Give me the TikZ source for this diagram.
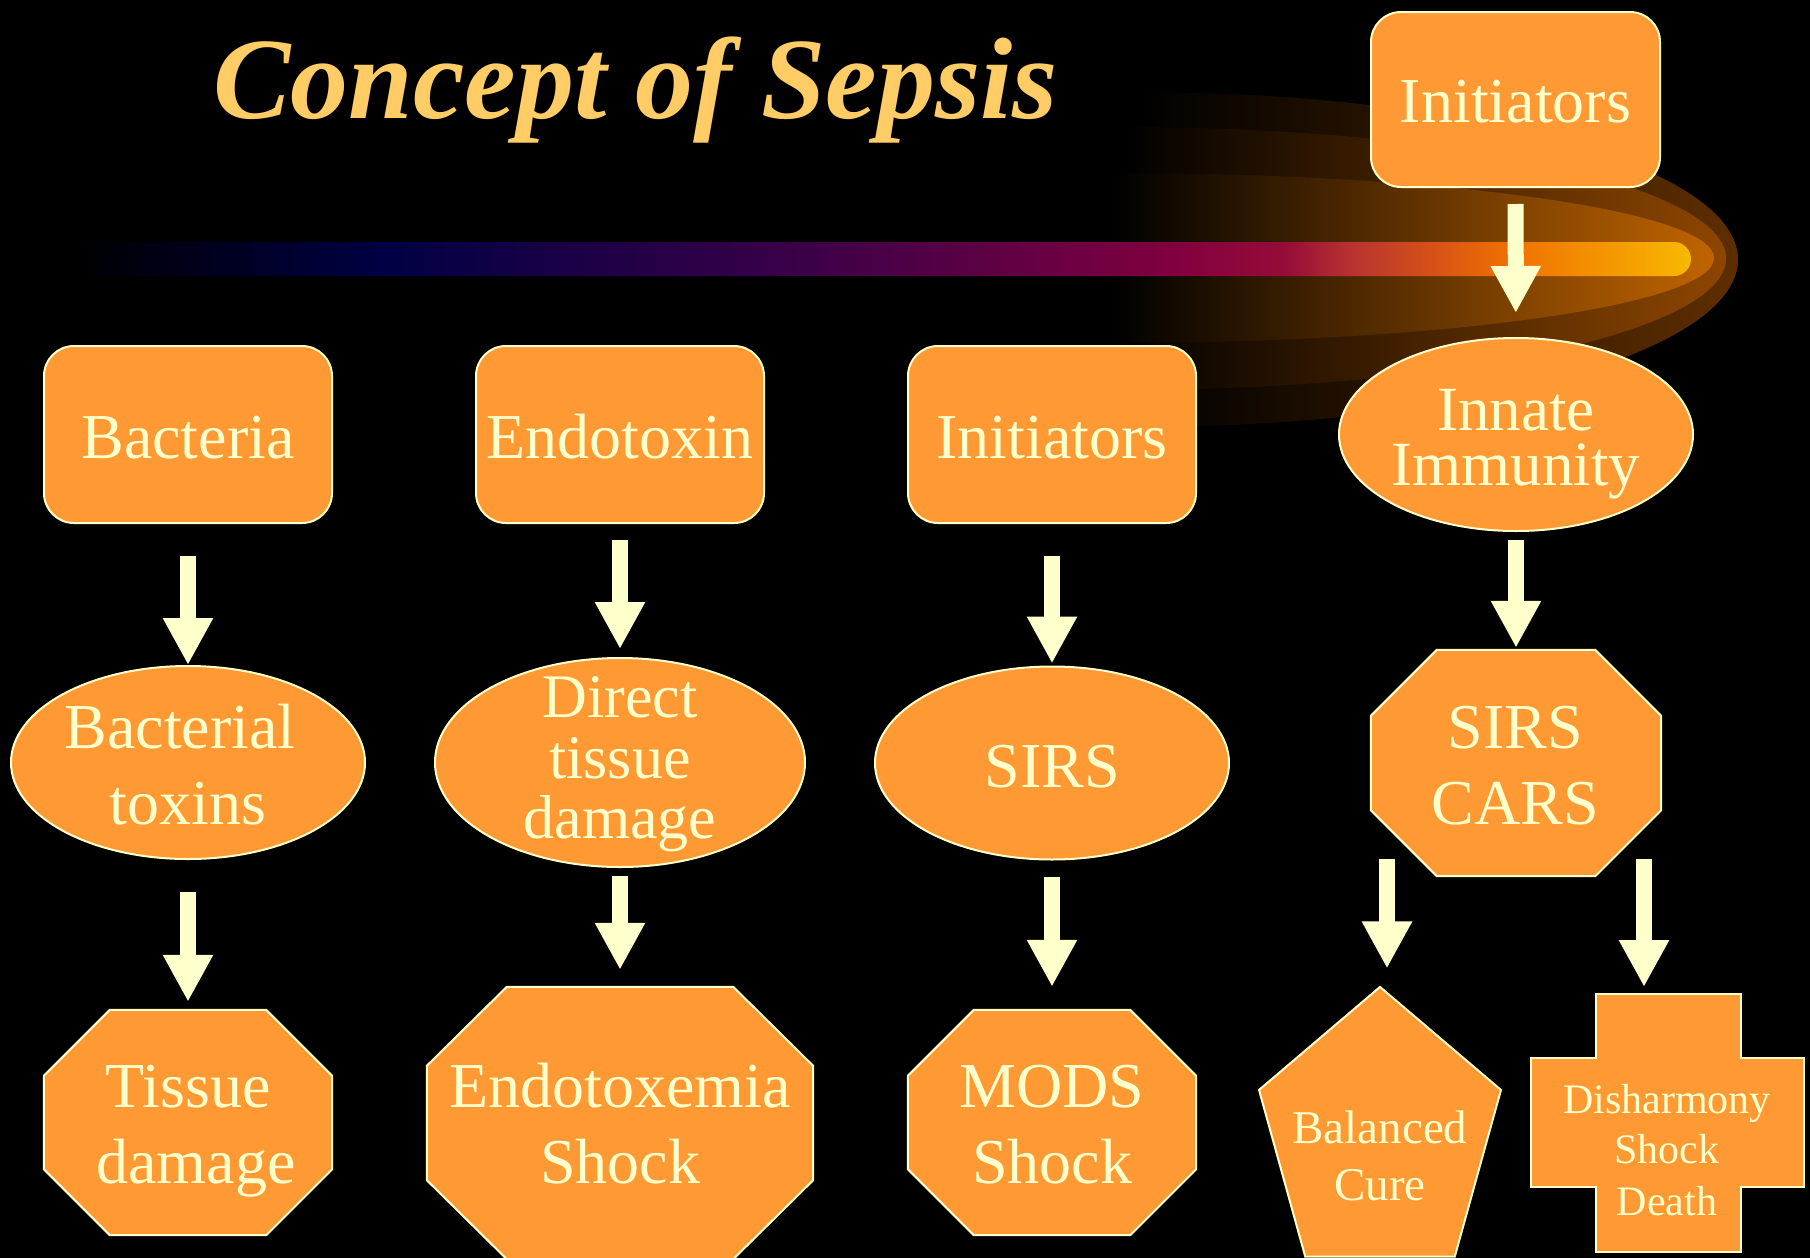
\documentclass[tikz,border=0pt]{standalone}
\usepackage{fontspec}
\setmainfont{Liberation Serif}
\usetikzlibrary{shapes.geometric,arrows.meta}
\definecolor{orfill}{HTML}{FF9933}
\definecolor{cream}{HTML}{FFFFCC}
\definecolor{titlecol}{HTML}{FFCC66}
\definecolor{glowA}{HTML}{5E2E00}
\definecolor{glowB}{HTML}{8E4600}
\definecolor{glowC}{HTML}{C06400}
\definecolor{stNavy}{HTML}{000044}
\definecolor{stPurple}{HTML}{3A0048}
\definecolor{stMag}{HTML}{80003F}
\definecolor{stCrim}{HTML}{960C38}
\definecolor{stRed}{HTML}{B83230}
\definecolor{stOr}{HTML}{F07000}
\definecolor{stYel}{HTML}{F8B800}
\pgfdeclarehorizontalshading{streak}{100bp}{color(0bp)=(black); color(25bp)=(black); color(34.7bp)=(stNavy); color(47.5bp)=(stPurple); color(59bp)=(stMag); color(62.5bp)=(stCrim); color(64.5bp)=(stRed); color(69.4bp)=(stOr); color(75bp)=(stYel); color(100bp)=(stYel)}
\tikzset{
  shp/.style={fill=orfill, draw=cream, line width=2pt, inner sep=0pt},
  rbox/.style={shp, rectangle, rounded corners=30pt, minimum width=288pt, minimum height=177pt},
  ell/.style={shp, ellipse, minimum width=354pt, minimum height=193pt},
  octframe/.style={rectangle, inner sep=0pt, minimum width=288pt, minimum height=225pt},
  pent/.style={shp, regular polygon, regular polygon sides=5},
  lbl/.style={text=cream, font=\fontsize{64}{76}\selectfont, anchor=base, inner sep=0pt},
  lblsmall/.style={lbl, font=\fontsize{47}{57}\selectfont},
  lbltiny/.style={lbl, font=\fontsize{42}{51}\selectfont},
  titlestyle/.style={text=titlecol, font=\fontsize{116}{130}\selectfont\bfseries\itshape, anchor=base, inner sep=0pt},
  bigarrow/.style={draw=cream, line width=16pt, -{Triangle[length=47pt,width=47pt]}},
}
% octagon outline drawn round a named frame node: #1 node, #2 horizontal cut, #3 vertical cut
\newcommand\drawocta[3]{%
  \path[shp] ([xshift=#2]#1.north west) -- ([xshift=-#2]#1.north east)
    -- ([yshift=-#3]#1.north east) -- ([yshift=#3]#1.south east)
    -- ([xshift=-#2]#1.south east) -- ([xshift=#2]#1.south west)
    -- ([yshift=#3]#1.south west) -- ([yshift=-#3]#1.north west) -- cycle;}
\begin{document}
\begin{tikzpicture}[x=1pt,y=-1pt]
\useasboundingbox (0,0) rectangle (1810,1258);
\fill[black] (0,0) rectangle (1810,1258);
% glow around the comet head
\shade[left color=black, middle color=glowA!80!black, right color=glowA]
  (1137,92) .. controls (1468.9,92) and (1738,167) .. (1738,259.5)
  .. controls (1738,352) and (1468.9,427) .. (1137,427) -- cycle;
\shade[left color=black, middle color=glowB!78!black, right color=glowB]
  (1123,127) .. controls (1456,127) and (1726,185.9) .. (1726,258.5)
  .. controls (1726,331.1) and (1456,390) .. (1123,390) -- cycle;
\shade[left color=black, middle color=glowC!75!black, right color=glowC]
  (1114,173) .. controls (1445.4,173) and (1714,211.1) .. (1714,258)
  .. controls (1714,304.9) and (1445.4,343) .. (1114,343) -- cycle;
% comet streak
\shade[shading=streak, rounded corners=17pt] (69,242) rectangle (1691,276);
% title
\node[titlestyle] (title) at (635.5,118) {Concept of Sepsis};
% row 1
\node[rbox, minimum width=289pt, minimum height=175pt] (init0) at (1515.5,99.5) {};
\node[lbl] (init0t) at (1515.5,122) {Initiators};
\node[rbox] (bac) at (188,434.5) {};
\node[lbl] (bact) at (188,458) {Bacteria};
\node[rbox] (endo) at (620,434.5) {};
\node[lbl] (endot) at (620,458) {Endotoxin};
\node[rbox] (init) at (1052,434.5) {};
\node[lbl] (initt) at (1052,458) {Initiators};
\node[ell] (innate) at (1516,434.5) {};
\node[lbl, anchor=center, align=center, font=\fontsize{63}{55}\selectfont] (innatet) at (1516,444.6) {Innate\\Immunity};
% row 2
\node[ell] (btox) at (188,762.5) {};
\node[lbl] (btox1) at (180,748) {Bacterial};
\node[lbl] (btox2) at (188,824) {toxins};
\node[ell, minimum width=370pt, minimum height=209pt] (dtd) at (620,762.5) {};
\node[lbl, font=\fontsize{62}{61}\selectfont] (dtd1) at (620,717) {Direct};
\node[lbl, font=\fontsize{62}{61}\selectfont] (dtd2) at (620,778) {tissue};
\node[lbl, font=\fontsize{62}{61}\selectfont] (dtd3) at (620,838) {damage};
\node[ell] (sirs) at (1052,763) {};
\node[lbl] (sirst) at (1052,787) {SIRS};
\node[octframe, minimum width=290pt, minimum height=226pt] (sc) at (1516,763) {};
\drawocta{sc}{66pt}{66pt}
\node[lbl] (sc1) at (1515,748) {SIRS};
\node[lbl] (sc2) at (1515,824) {CARS};
% row 3
\node[octframe] (tis) at (188,1122.5) {};
\drawocta{tis}{66pt}{66pt}
\node[lbl] (tis1) at (188,1107.5) {Tissue};
\node[lbl] (tis2) at (196,1183.5) {damage};
\node[octframe, minimum width=386pt, minimum height=272pt] (endx) at (620,1123) {};
\drawocta{endx}{80pt}{79pt}
\node[lbl] (endx1) at (620,1107) {Endotoxemia};
\node[lbl] (endx2) at (620,1183) {Shock};
\node[octframe] (mods) at (1052,1122.5) {};
\drawocta{mods}{66pt}{66pt}
\node[lbl] (mods1) at (1052,1107) {MODS};
\node[lbl] (mods2) at (1052,1183) {Shock};
\node[pent, minimum size=254.4pt, yscale=1.172, transform shape] (bal) at (1380,1136) {};
\node[lblsmall] (bal1) at (1380,1143) {Balanced};
\node[lblsmall] (bal2) at (1380,1200) {Cure};
\path[shp] (1595.5,994) -- (1741,994) -- (1741,1058) -- (1804,1058) -- (1804,1187)
  -- (1741,1187) -- (1741,1252) -- (1595.5,1252) -- (1595.5,1187) -- (1531,1187)
  -- (1531,1058) -- (1595.5,1058) -- cycle;
\coordinate (distop) at (1644,987);
\node[lbltiny] (dis1) at (1667,1113) {Disharmony};
\node[lbltiny] (dis2) at (1667,1163) {Shock};
\node[lbltiny] (dis3) at (1667,1215) {Death};
% arrows
\draw[bigarrow, shorten <=32pt] (bac) -- (btox);
\draw[bigarrow, shorten <=32pt, shorten >=8pt] (btox) -- (tis);
\draw[bigarrow, shorten <=16pt, shorten >=8pt] (endo) -- (dtd);
\draw[bigarrow, shorten <=8pt, shorten >=17pt] (dtd) -- (endx);
\draw[bigarrow, shorten <=32pt, shorten >=2pt] (init) -- (sirs);
\draw[bigarrow, shorten <=16pt, shorten >=23pt] (sirs) -- (mods);
\draw[bigarrow, shorten <=16pt, shorten >=24pt] (init0) -- (innate);
\draw[bigarrow, shorten <=8pt, shorten >=2pt] (innate) -- (sc);
\draw[bigarrow] ([xshift=-129pt,yshift=17pt]sc.south) -- ([xshift=7pt,yshift=17pt]bal.north);
\draw[bigarrow] ([xshift=128pt,yshift=17pt]sc.south) -- (distop);
\end{tikzpicture}
\end{document}
